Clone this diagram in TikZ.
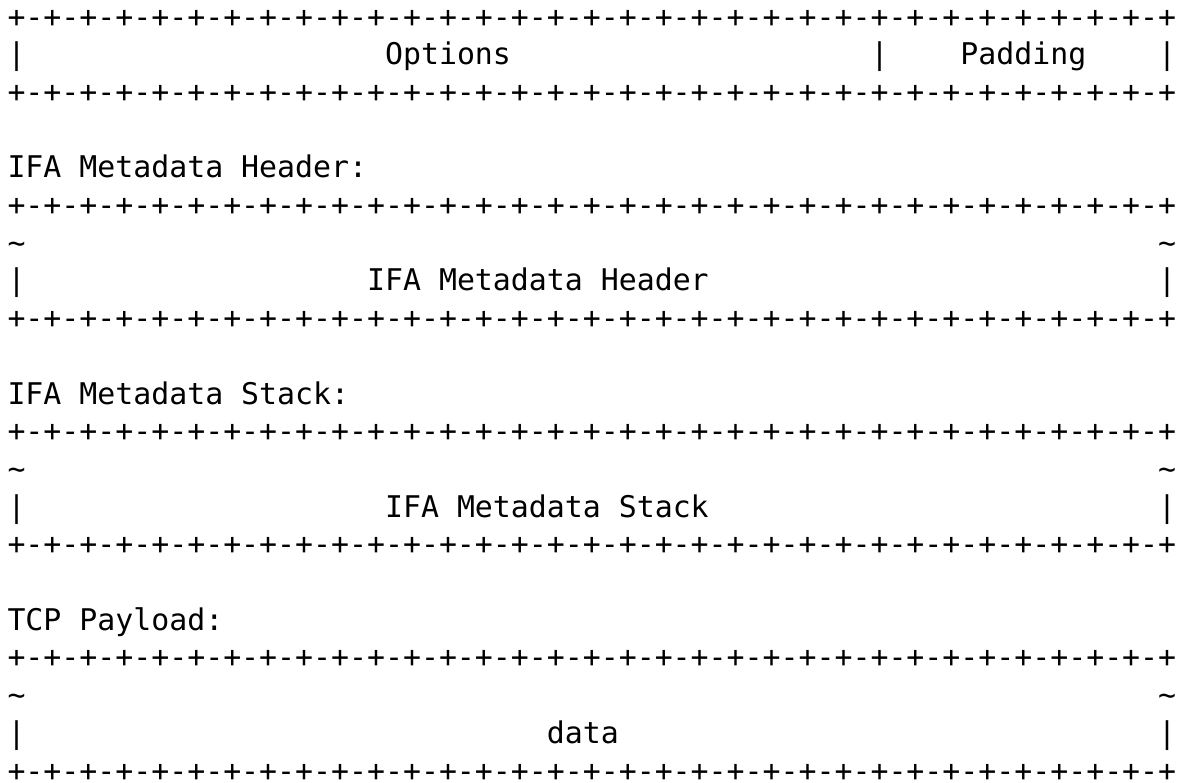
\documentclass[tikz,border=0pt]{standalone}
\usepackage{fontspec}
\setmonofont{DejaVu Sans Mono}
\newcommand{\bitrule}{+-+-+-+-+-+-+-+-+-+-+-+-+-+-+-+-+-+-+-+-+-+-+-+-+-+-+-+-+-+-+-+-+}
\newcommand{\tld}{\textasciitilde}
\tikzset{ascii/.style={anchor=base west, inner sep=0pt, outer sep=0pt, font=\ttfamily\fontsize{22.4}{26}\selectfont}}

\begin{document}
\begin{tikzpicture}[x=0.75pt,y=0.75pt,yscale=-1,xscale=1]
\path[use as bounding box] (0,0) rectangle (1189,782);

% Options / Padding
\draw (7.5,27) node (optTop) [ascii] {\bitrule};
\draw (7.5,64.7) node (optL) [ascii] {|};
\draw (385.08,64.7) node (optText) [ascii] {Options};
\draw (870.54,64.7) node (optM) [ascii] {|};
\draw (960.44,64.7) node (padText) [ascii] {Padding};
\draw (1158.22,64.7) node (optR) [ascii] {|};
\draw (7.5,102.4) node (optBot) [ascii] {\bitrule};

% Text Node
\draw (7.5,177.8) node (hdrLabel) [ascii] {IFA Metadata Header:};
\draw (7.5,215.5) node (hdrTop) [ascii] {\bitrule};
\draw (7.5,253.2) node (hdrTl) [ascii] {\tld};
\draw (1158.22,253.2) node (hdrTr) [ascii] {\tld};
\draw (7.5,290.9) node (hdrL) [ascii] {|};
\draw (367.1,290.9) node (hdrText) [ascii] {IFA Metadata Header};
\draw (1158.22,290.9) node (hdrR) [ascii] {|};
\draw (7.5,328.6) node (hdrBot) [ascii] {\bitrule};

% Text Node
\draw (7.5,404) node (stkLabel) [ascii] {IFA Metadata Stack:};
\draw (7.5,441.7) node (stkTop) [ascii] {\bitrule};
\draw (7.5,479.4) node (stkTl) [ascii] {\tld};
\draw (1158.22,479.4) node (stkTr) [ascii] {\tld};
\draw (7.5,517.1) node (stkL) [ascii] {|};
\draw (385.08,517.1) node (stkText) [ascii] {IFA Metadata Stack};
\draw (1158.22,517.1) node (stkR) [ascii] {|};
\draw (7.5,554.8) node (stkBot) [ascii] {\bitrule};

% Text Node
\draw (7.5,630.2) node (tcpLabel) [ascii] {TCP Payload:};
\draw (7.5,667.9) node (tcpTop) [ascii] {\bitrule};
\draw (7.5,705.6) node (tcpTl) [ascii] {\tld};
\draw (1158.22,705.6) node (tcpTr) [ascii] {\tld};
\draw (7.5,743.3) node (tcpL) [ascii] {|};
\draw (546.9,743.3) node (tcpText) [ascii] {data};
\draw (1158.22,743.3) node (tcpR) [ascii] {|};
\draw (7.5,781) node (tcpBot) [ascii] {\bitrule};

\end{tikzpicture}
\end{document}
